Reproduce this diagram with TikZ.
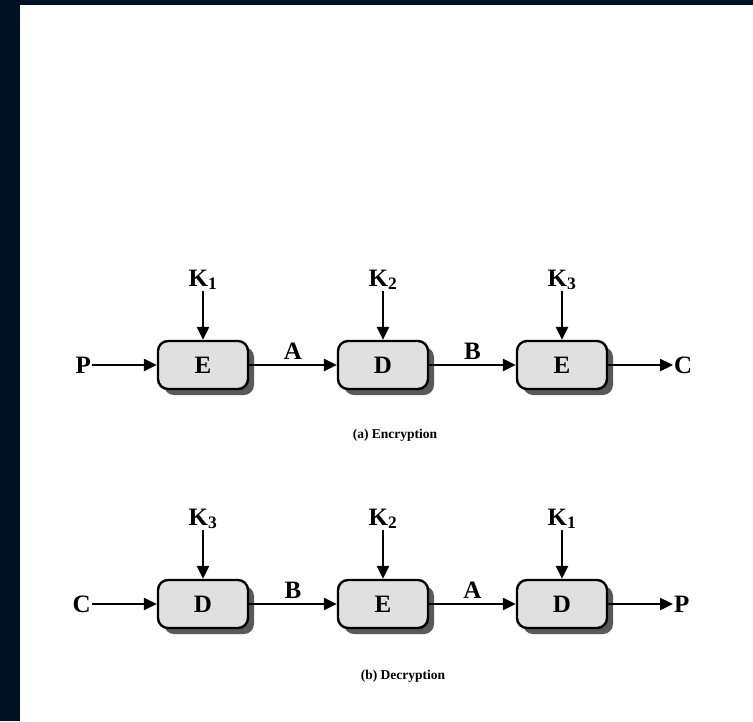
\documentclass[tikz,border=0pt]{standalone}
\usepackage{fontspec}
\setmainfont{Liberation Serif}
\usetikzlibrary{arrows.meta,shadows}
\definecolor{fond}{HTML}{001025}
\definecolor{gris}{HTML}{E0E0E0}
\tikzset{
  bloc/.style={draw,line width=2.4pt,fill=gris,rounded corners=10pt,
    minimum width=90pt,minimum height=48pt,inner sep=0pt,
    font=\fontsize{25}{25}\selectfont\bfseries,
    drop shadow={shadow xshift=6pt,shadow yshift=-6pt,fill=black!65,opacity=1}},
  fleche/.style={line width=2.4pt,-{Triangle[length=13pt,width=12pt]}},
  lettre/.style={inner sep=1pt,font=\fontsize{25}{25}\selectfont\bfseries},
  legende/.style={font=\fontsize{13.5}{14}\selectfont\bfseries}
}
\begin{document}
\begin{tikzpicture}[x=1pt,y=-1pt]
			\useasboundingbox (0,0) rectangle (753,721);
			\fill[fond] (0,0) rectangle (753,721);
			\fill[white] (20,5) rectangle (753,721);
			
			% Chiffrement
			\node[bloc] (e1) at (203,365) {E};
			\node[bloc] (d1) at (383,365) {D};
			\node[bloc] (e2) at (562,365) {E};
			\node[lettre,anchor=east] (p1) at (92,365) {P};
			\node[lettre,anchor=west] (c1) at (673,365) {C};
			\node[lettre,anchor=base] (k1) at (203,286) {K\textsubscript{1}};
			\node[lettre,anchor=base] (k2) at (383,286) {K\textsubscript{2}};
			\node[lettre,anchor=base] (k3) at (562,286) {K\textsubscript{3}};
			\draw[fleche] (p1) -- (e1);
			\draw[fleche] (e1) -- node[lettre,above=3pt] (a1) {A} (d1);
			\draw[fleche] (d1) -- node[lettre,above=3pt] (b1) {B} (e2);
			\draw[fleche] (e2) -- (c1);
			\draw[fleche] (k1) -- (e1);
			\draw[fleche] (k2) -- (d1);
			\draw[fleche] (k3) -- (e2);
			\node[legende] (chiffre) at (395,435) {(a) Encryption};
			
			% Déchiffrement
			\node[bloc] (d2) at (203,604) {D};
			\node[bloc] (e3) at (383,604) {E};
			\node[bloc] (d3) at (562,604) {D};
			\node[lettre,anchor=east] (c2) at (92,604) {C};
			\node[lettre,anchor=west] (p2) at (673,604) {P};
			\node[lettre,anchor=base] (k4) at (203,525) {K\textsubscript{3}};
			\node[lettre,anchor=base] (k5) at (383,525) {K\textsubscript{2}};
			\node[lettre,anchor=base] (k6) at (562,525) {K\textsubscript{1}};
			\draw[fleche] (c2) -- (d2);
			\draw[fleche] (d2) -- node[lettre,above=3pt] (b2) {B} (e3);
			\draw[fleche] (e3) -- node[lettre,above=3pt] (a2) {A} (d3);
			\draw[fleche] (d3) -- (p2);
			\draw[fleche] (k4) -- (d2);
			\draw[fleche] (k5) -- (e3);
			\draw[fleche] (k6) -- (d3);
			\node[legende] (dechiffre) at (403,676) {(b) Decryption};
		\end{tikzpicture}
\end{document}
